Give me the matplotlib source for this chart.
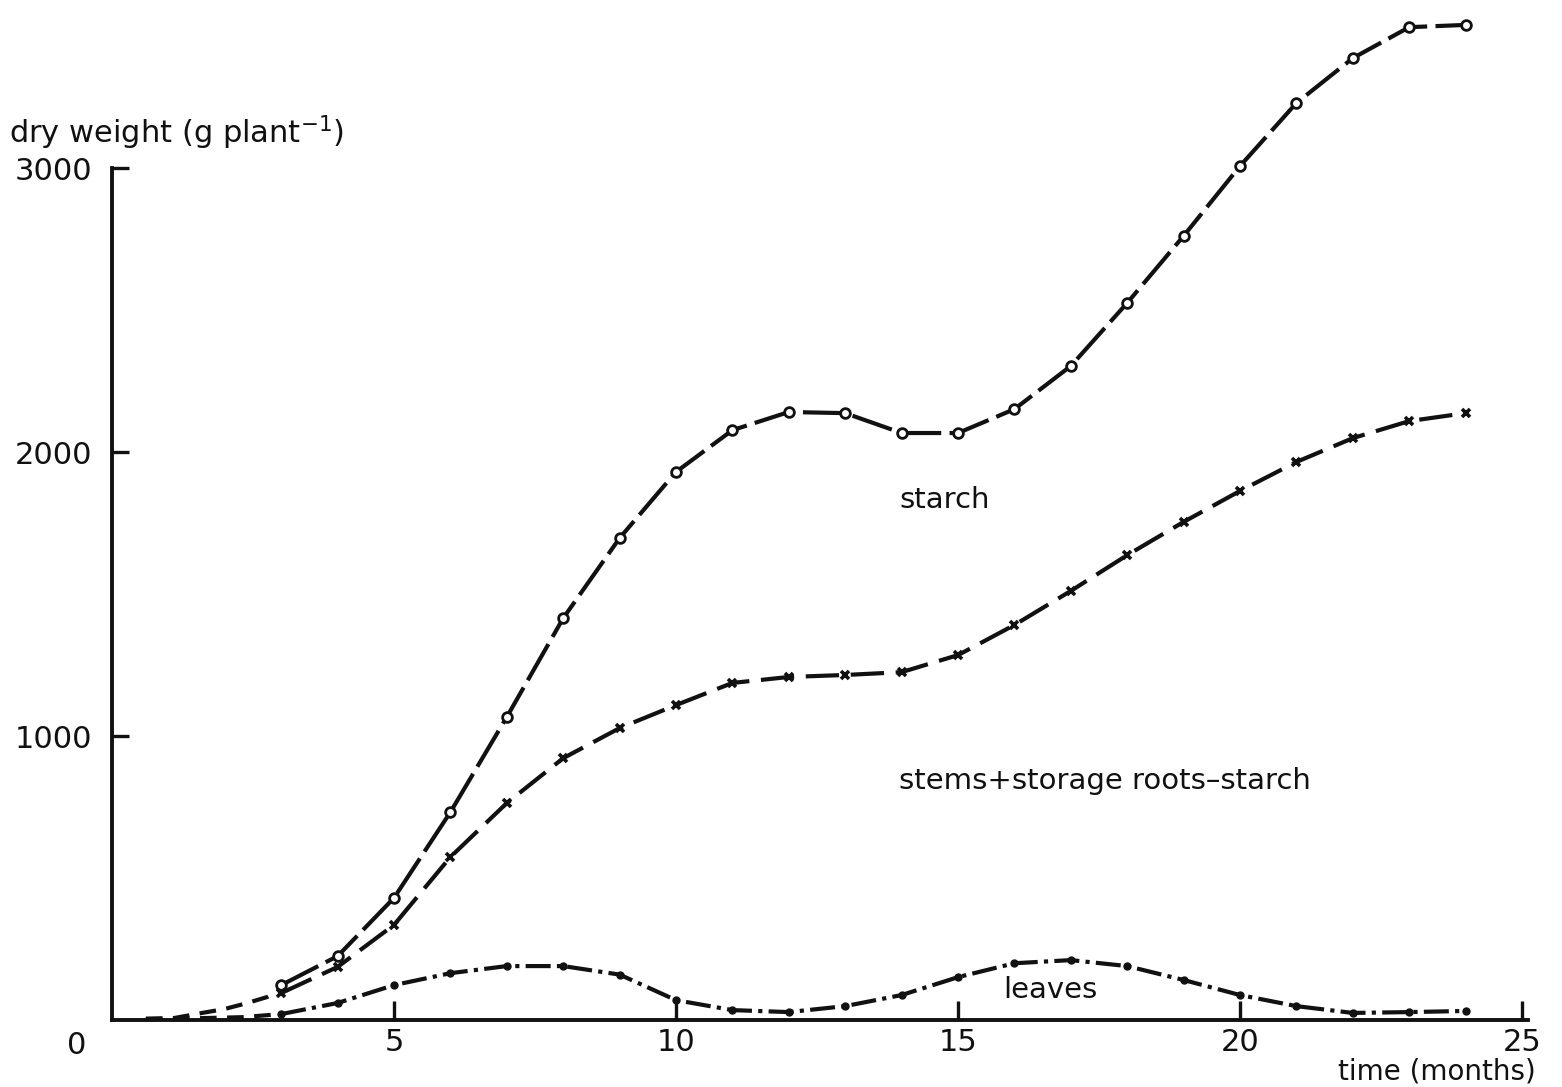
import matplotlib
matplotlib.use("Agg")
import matplotlib.pyplot as plt

# --- data --------------------------------------------------------------------
months = list(range(3, 25))

starch = [123, 225, 430, 732, 1067, 1415, 1697, 1930, 2077, 2141, 2137, 2067,
          2067, 2151, 2303, 2525, 2761, 3007, 3229, 3387, 3496, 3504]

stems_roots = [95, 187, 335, 574, 764, 922, 1028, 1109, 1187, 1208, 1215, 1225,
               1285, 1391, 1511, 1637, 1754, 1863, 1965, 2049, 2109, 2137]

leaves = [21, 60, 123, 165, 190, 190, 160, 70, 35, 28, 49, 88,
          151, 200, 211, 190, 141, 88, 49, 25, 28, 32]

# dashed early part shared by the two upper curves (no markers)
early_months = [0.6, 1.1, 1.6, 2.0, 2.4, 2.75, 3.0]
early_values = [5, 7, 25, 39, 60, 81, 110]

leaves_early_months = [0.6, 1.2, 2.3, 3.0]
leaves_early_values = [3, 5, 10, 21]

INK = "#111111"
FS = 22

fig = plt.figure(figsize=(15.62, 10.87), dpi=100)
ax = fig.add_axes([0.0717, 0.0616, 0.9027, 0.7838])

lw = 3.0
ax.plot(early_months, early_values, color=INK, lw=lw, ls=(0, (4, 2.5)),
        clip_on=False)
ax.plot(leaves_early_months, leaves_early_values, color=INK, lw=lw,
        ls=(0, (4, 2.5)), clip_on=False)

ax.plot(months, starch, color=INK, lw=lw, ls=(0, (10, 2)), marker="o",
        ms=7, mfc="white", mec=INK, mew=2.0, clip_on=False, zorder=3)
ax.plot(months, stems_roots, color=INK, lw=lw, ls=(0, (8, 2.8)), marker="x",
        ms=6, mec=INK, mew=2.6, clip_on=False, zorder=3)
ax.plot(months, leaves, color=INK, lw=lw, ls=(0, (6, 1.5, 1, 1.5)),
        marker="o", ms=5, mfc=INK, mec=INK, clip_on=False, zorder=3)

ax.set_xlim(0, 25)
ax.set_ylim(0, 3000)
ax.set_xticks([5, 10, 15, 20, 25])
ax.set_yticks([1000, 2000, 3000])
ax.tick_params(direction="in", length=14, width=2.4, labelsize=FS,
               colors=INK, pad=6)
ax.tick_params(axis="y", length=12, pad=14)

for side in ("top", "right"):
    ax.spines[side].set_visible(False)
for side in ("left", "bottom"):
    ax.spines[side].set_linewidth(2.8)
    ax.spines[side].set_color(INK)
ax.spines["bottom"].set_bounds(0, 25.1)

ax.text(-0.45, -40, "0", fontsize=FS, color=INK, ha="right", va="top")

fig.text(0.006, 0.878, r"dry weight (g plant$^{-1}$)", fontsize=22,
         color=INK, ha="left", va="center")
fig.text(0.983, 0.014, "time (months)", fontsize=20, color=INK,
         ha="right", va="center")

ax.text(14.76, 1830, "starch", fontsize=21, color=INK, ha="center",
        va="center")
ax.text(13.95, 840, "stems+storage roots\u2013starch", fontsize=21,
        color=INK, ha="left", va="center")
ax.text(15.8, 105, "leaves", fontsize=21, color=INK, ha="left",
        va="center")

fig.savefig("out.png", dpi=100, facecolor="white")
